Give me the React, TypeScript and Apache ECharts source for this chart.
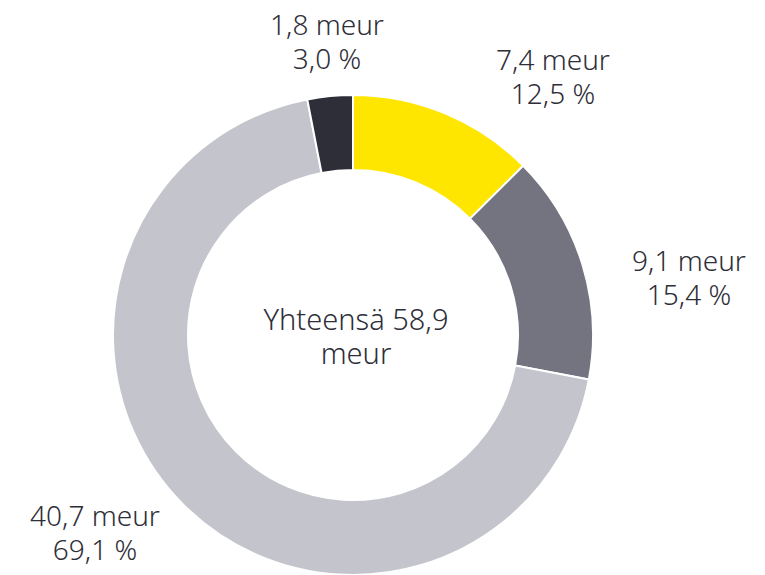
import React, { useEffect, useRef } from "react";
import * as echarts from "echarts";

const categories = ["A", "B", "C", "D"];
const valuesMeur = [7.4, 9.1, 40.7, 1.8];
const shares = [12.5, 15.4, 69.1, 3.0];
const colors = ["#FFE600", "#747480", "#C4C4CD", "#2E2E38"];
const totalLabel = "Yhteensä 58,9\nmeur";

// label anchor positions (layout only)
const labelAnchors: [number, number][] = [
  [553, 76],
  [689, 277],
  [95, 532],
  [327, 41],
];

const fmt = (v: number) => v.toFixed(1).replace(".", ",");

export default function App() {
  const ref = useRef<HTMLDivElement>(null);
  useEffect(() => {
    if (!ref.current) return;
    const chart = echarts.init(ref.current, null, { renderer: "svg" });
    chart.setOption({
      animation: false,
      backgroundColor: "#ffffff",
      graphic: [
        {
          type: "text",
          x: 356,
          y: 335,
          style: {
            text: totalLabel,
            align: "center",
            verticalAlign: "middle",
            fontFamily: "Noto Sans",
            fontWeight: 300,
            fontSize: 29,
            lineHeight: 34,
            fill: "#2E2E38",
          },
        },
      ],
      series: [
        {
          type: "pie",
          center: [353, 335],
          radius: [165, 240],
          startAngle: 90,
          clockwise: true,
          itemStyle: { borderColor: "#ffffff", borderWidth: 2 },
          label: {
            show: true,
            position: "outside",
            color: "#2E2E38",
            fontFamily: "Noto Sans",
            fontWeight: 300,
            fontSize: 28,
            lineHeight: 34,
            overflow: "none",
            formatter: (p: any) =>
              `${fmt(valuesMeur[p.dataIndex])} meur\n${fmt(shares[p.dataIndex])} %`,
          },
          labelLine: { show: false },
          labelLayout: (p: any) => ({
            x: labelAnchors[p.dataIndex][0],
            y: labelAnchors[p.dataIndex][1],
            align: "center",
            verticalAlign: "middle",
          }),
          emphasis: { disabled: true },
          data: categories.map((c, i) => ({
            name: c,
            value: valuesMeur[i],
            itemStyle: { color: colors[i] },
          })),
        },
      ],
    });
    return () => chart.dispose();
  }, []);
  return (
    <div
      ref={ref}
      style={{ position: "fixed", left: 0, top: 0, width: 765, height: 575 }}
    />
  );
}
